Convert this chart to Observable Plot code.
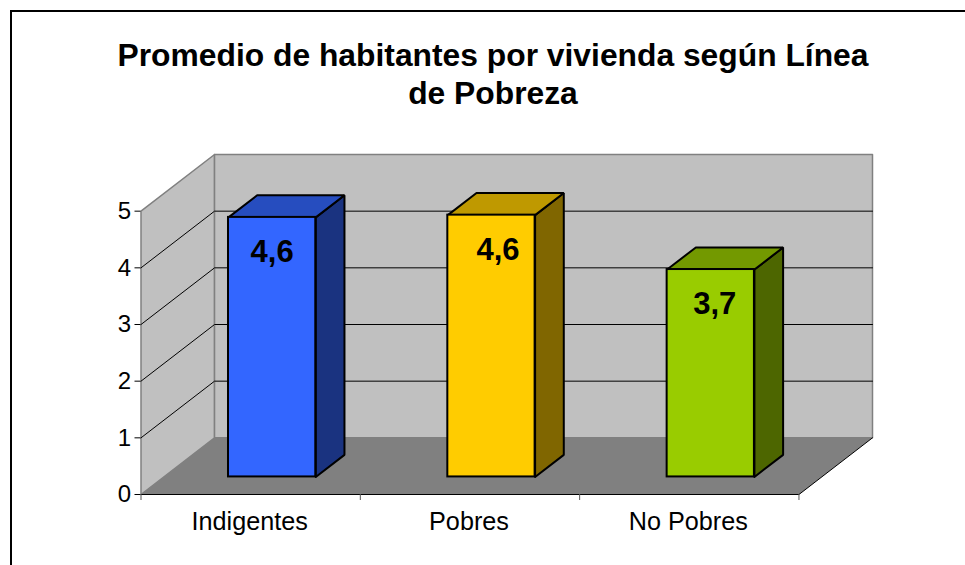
<!DOCTYPE html>
<html lang="es">
<head>
<meta charset="utf-8">
<script src="https://cdn.jsdelivr.net/npm/d3@7"></script>
<script src="https://cdn.jsdelivr.net/npm/@observablehq/plot@0.6"></script>
<style>
  html, body { margin: 0; padding: 0; background: #fff; overflow: hidden; }
  #page { position: relative; width: 965px; height: 565px; overflow: hidden; }
  #frame { position: absolute; left: 10px; top: 10px; width: 955px; height: 555px;
           border-left: 2px solid #000; border-top: 2px solid #000; box-sizing: border-box; }
  #title { position: relative; box-sizing: border-box; width: 965px; height: 125px;
           padding: 36px 0 0 21px; margin: 0; text-align: center; color: #000; white-space: nowrap;
           font: bold 31.8px/38px "Liberation Sans", Arial, sans-serif; }
  #chart { position: relative; }
  #chart svg { display: block; }
</style>
</head>
<body>
<div id="page">
  <div id="frame"></div>
  <h1 id="title">Promedio de habitantes por vivienda según Línea<br>de Pobreza</h1>
  <div id="chart"></div>
</div>
<script>
const categories = ["Indigentes", "Pobres", "No Pobres"];
const values = [4.58, 4.62, 3.66];
const valueLabels = ["4,6", "4,6", "3,7"];
const yTicks = [0, 1, 2, 3, 4, 5];
const gridValues = [1, 2, 3, 4];
const frontColors = ["#3366FF", "#FFCC00", "#99CC00"];
const topColors = ["#264DBF", "#BF9900", "#739900"];
const sideColors = ["#1A3380", "#806600", "#4D6600"];

// Oblique projection: depth d (0 = front, 1 = back) shifts both axes in data units.
const depthX = 0.3353;
const depthY = 1;
const yMax = 5;
const barStart = 0.295, barEnd = 0.693;
const depthFront = 0.31, depthBack = 0.70;
const labelShift = [0, 0.03, 0.018];
const labelDrop = 0.615;

const P = (u, v, d = 0) => ({x: u + d * depthX, y: v + d * depthY});
const poly = (pts, options) => Plot.line([...pts, pts[0]], {x: "x", y: "y", curve: "linear", ...options});
const nC = categories.length;

const rows = categories.map((category, i) => ({
  category, value: values[i], label: valueLabels[i],
  front: frontColors[i], top: topColors[i], side: sideColors[i],
  x1: P(i + barStart, 0, depthFront).x,
  x2: P(i + barEnd, 0, depthFront).x,
  y1: P(0, 0, depthFront).y,
  y2: P(0, values[i], depthFront).y,
  lx: P(i + (barStart + barEnd) / 2 + labelShift[i], 0, depthFront).x,
  ly: values[i] + depthFront - labelDrop
}));

const barMarks = rows.flatMap((r, i) => {
  const a = i + barStart, b = i + barEnd, v = r.value;
  return [
    poly([P(b, 0, depthFront), P(b, 0, depthBack), P(b, v, depthBack), P(b, v, depthFront)],
      {fill: r.side, stroke: "#000", strokeWidth: 2, strokeLinejoin: "miter"}),
    poly([P(a, v, depthFront), P(a, v, depthBack), P(b, v, depthBack), P(b, v, depthFront)],
      {fill: r.top, stroke: "#000", strokeWidth: 2, strokeLinejoin: "miter"})
  ];
});

const chart = Plot.plot({
  width: 965,
  height: 440,
  marginLeft: 140.5,
  marginRight: 93,
  marginTop: 29,
  marginBottom: 71,
  style: {fontFamily: '"Liberation Sans", Arial, sans-serif', background: "transparent", overflow: "visible"},
  x: {domain: [0, nC + depthX], axis: null},
  y: {domain: [0, yMax + depthY], axis: null},
  marks: [
    // walls and floor
    poly([P(0, 0, 0), P(0, 0, 1), P(0, yMax, 1), P(0, yMax, 0)], {fill: "#C0C0C0", stroke: "#808080", strokeWidth: 1.5}),
    poly([P(0, 0, 1), P(nC, 0, 1), P(nC, yMax, 1), P(0, yMax, 1)], {fill: "#C0C0C0", stroke: "#808080", strokeWidth: 1.5}),
    poly([P(0, 0, 0), P(nC, 0, 0), P(nC, 0, 1), P(0, 0, 1)], {fill: "#808080", stroke: "none"}),
    // gridlines on both walls
    ...gridValues.map(v => Plot.line([P(0, v, 0), P(0, v, 1), P(nC, v, 1)], {x: "x", y: "y", stroke: "#000", strokeWidth: 1})),
    // floor front and side edges
    Plot.line([P(0, 0, 0), P(nC, 0, 0), P(nC, 0, 1)], {x: "x", y: "y", stroke: "#000", strokeWidth: 1}),
    // bars
    ...barMarks,
    Plot.rect(rows, {x1: "x1", x2: "x2", y1: "y1", y2: "y2", fill: "front", stroke: "#000", strokeWidth: 2, inset: 0}),
    // axes
    Plot.axisY({ticks: yTicks, anchor: "left", tickSize: 6, tickPadding: 4, tickFormat: "d", fontSize: 24, label: null, stroke: "#000", fill: "#000", color: "#000", textStroke: "none"}),
    Plot.axisX({ticks: d3.range(nC + 1), anchor: "bottom", tickSize: 6, tickFormat: () => "", label: null, stroke: "#555"}),
    Plot.axisX({ticks: categories.map((_, i) => i + 0.5), anchor: "bottom", tickSize: 0, tickPadding: 18, dx: -1,
      tickFormat: d => categories[Math.floor(d)], fontSize: 25.2, label: null, fill: "#000", color: "#000"}),
    // value labels
    Plot.text(rows, {x: "lx", y: "ly", text: "label", fontSize: 31, fontWeight: "bold", fill: "#000"})
  ]
});
document.getElementById("chart").appendChild(chart);
</script>
</body>
</html>
